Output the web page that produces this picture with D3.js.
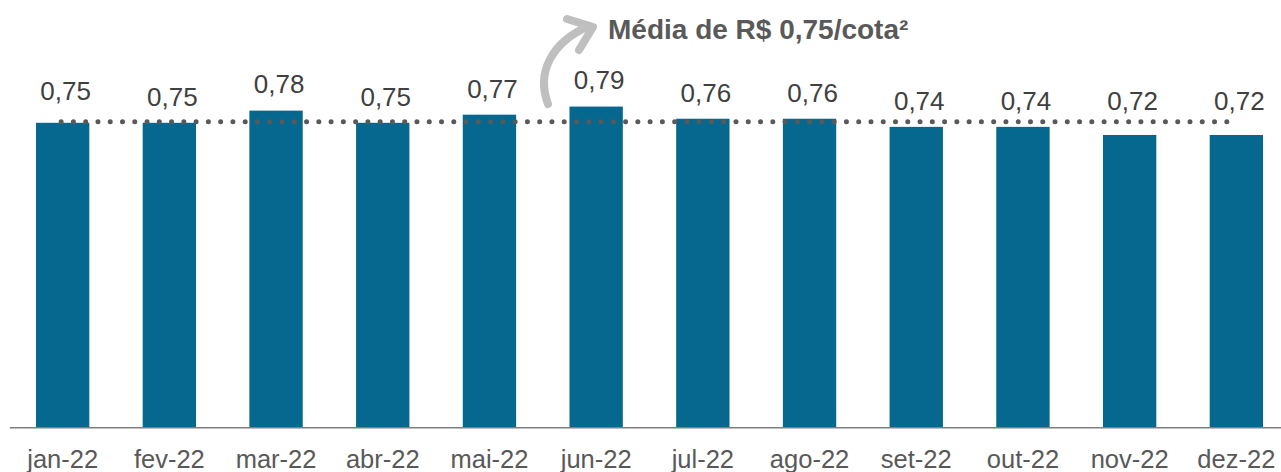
<!DOCTYPE html>
<html>
<head>
<meta charset="utf-8">
<script src="https://cdn.jsdelivr.net/npm/d3@7"></script>
<style>
  body { margin: 0; background: #fff; }
  svg { display: block; font-family: "Liberation Sans", Arial, sans-serif; }
</style>
</head>
<body>
<svg id="chart" width="1281" height="472"></svg>
<script>
const months = ['jan-22', 'fev-22', 'mar-22', 'abr-22', 'mai-22', 'jun-22', 'jul-22', 'ago-22', 'set-22', 'out-22', 'nov-22', 'dez-22'];
const dividends = [0.75, 0.75, 0.78, 0.75, 0.77, 0.79, 0.76, 0.76, 0.74, 0.74, 0.72, 0.72];
const mediaCota = 0.75;
const titleText = 'Média de R$ 0,75/cota²';

// labels were nudged by hand in the original, keep the same lift (px)
const labelLift = [6, 0, 1, 0, 0, 1, 0, 0, 0, 0, 8, 8];

const svg = d3.select('#chart');
const barColor = '#07688f';

let x = d3.scaleBand()
    .domain(months)
    .range([9.3, 1289.7])
    .paddingInner(0.5)
    .paddingOuter(0.25);

let y = d3.scaleLinear()
    .domain([0, 0.9])
    .range([427.3, 427.3 - 0.9 * 406]);

const fmt = v => d3.format('.2f')(v).replace('.', ',');

svg.selectAll('rect.bar')
    .data(dividends)
    .enter()
    .append('rect')
    .attr('class', 'bar')
    .attr('x', (d, i) => x(months[i]))
    .attr('y', d => y(d))
    .attr('width', x.bandwidth())
    .attr('height', d => y(0) - y(d))
    .attr('fill', barColor);

// x axis
let xAxis = d3.axisBottom(x).tickSize(0).tickPadding(0);
let gx = svg.append('g')
    .attr('transform', 'translate(0,' + y(0) + ')')
    .call(xAxis);
gx.select('.domain')
    .attr('stroke', '#7f7f7f')
    .attr('stroke-width', 1.5);
gx.selectAll('text')
    .attr('y', 41)
    .attr('dy', null)
    .attr('fill', '#595959')
    .style('font-size', '25.5px')
    .style('font-family', '"Liberation Sans", Arial, sans-serif');

// average dotted line
let xStart = x(months[0]) + x.bandwidth() / 2 - 1.5;
let xEnd = x(months[months.length - 1]) + x.bandwidth() / 2 - 9;
svg.append('line')
    .attr('x1', xStart)
    .attr('x2', xEnd)
    .attr('y1', y(mediaCota) - 1)
    .attr('y2', y(mediaCota) - 1)
    .attr('stroke', '#595959')
    .attr('stroke-width', 5)
    .attr('stroke-linecap', 'round')
    .attr('stroke-dasharray', '0 12.27');

// value labels
svg.selectAll('text.val')
    .data(dividends)
    .enter()
    .append('text')
    .attr('class', 'val')
    .attr('x', (d, i) => x(months[i]) + x.bandwidth() / 2 + 3)
    .attr('y', (d, i) => y(d) - 17 - labelLift[i])
    .attr('text-anchor', 'middle')
    .attr('fill', '#404040')
    .style('font-size', '26px')
    .text(d => fmt(d));

// curved arrow + title
svg.append('path')
    .attr('d', 'M548,104 C536,72 552,42 589,26')
    .attr('fill', 'none')
    .attr('stroke', '#bfbfbf')
    .attr('stroke-width', 8)
    .attr('stroke-linecap', 'round');
svg.append('path')
    .attr('d', 'M567,19 L593,27 L579,50')
    .attr('fill', 'none')
    .attr('stroke', '#bfbfbf')
    .attr('stroke-width', 8)
    .attr('stroke-linecap', 'round')
    .attr('stroke-linejoin', 'round');

svg.append('text')
    .attr('x', 608)
    .attr('y', 38.5)
    .attr('fill', '#595959')
    .style('font-size', '28px')
    .style('font-weight', 'bold')
    .text(titleText);
</script>
</body>
</html>
